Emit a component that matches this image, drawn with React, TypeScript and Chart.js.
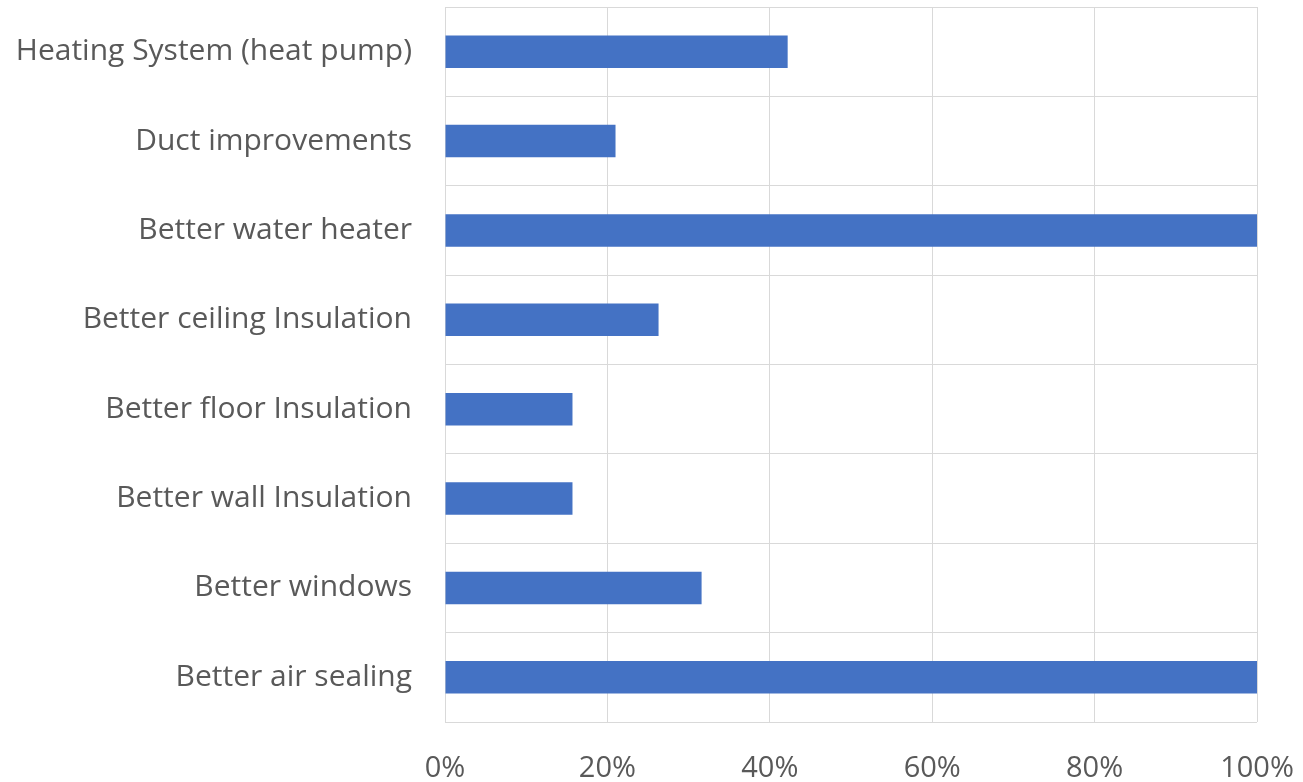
import React, { useEffect, useRef } from "react";
import { Chart, registerables } from "chart.js";

Chart.register(...registerables);

const categories = [
  "Heating System (heat pump)",
  "Duct improvements",
  "Better water heater",
  "Better ceiling Insulation",
  "Better floor Insulation",
  "Better wall Insulation",
  "Better windows",
  "Better air sealing",
];
const values = [42.2, 21.0, 100, 26.3, 15.7, 15.7, 31.6, 100];
const xTicks = [0, 20, 40, 60, 80, 100];

const FONT = "'Open Sans', Lato, sans-serif";

const zeroPad = (scale: any) => {
  scale.paddingLeft = 0;
  scale.paddingRight = 0;
  scale.paddingTop = 0;
  scale.paddingBottom = 0;
};

export default function App() {
  const ref = useRef<HTMLCanvasElement | null>(null);
  useEffect(() => {
    document.body.style.margin = "0";
    if (!ref.current) return;
    const chart = new Chart(ref.current, {
      type: "bar",
      data: {
        labels: categories,
        datasets: [
          {
            data: values,
            backgroundColor: "#4472C4",
            borderWidth: 0,
            categoryPercentage: 0.73,
            barPercentage: 0.5,
          },
        ],
      },
      options: {
        indexAxis: "y",
        animation: false,
        responsive: false,
        maintainAspectRatio: false,
        layout: { padding: { top: 7, right: 46, left: 0, bottom: 0 } },
        plugins: { legend: { display: false }, tooltip: { enabled: false } },
        scales: {
          x: {
            min: 0,
            max: 100,
            afterBuildTicks: (scale: any) => {
              scale.ticks = xTicks.map((v) => ({ value: v }));
            },
            afterFit: (scale: any) => {
              scale.height = 60;
              zeroPad(scale);
            },
            grid: { color: "#d9d9d9", drawTicks: false, lineWidth: 1 },
            border: { display: false },
            ticks: {
              padding: 29,
              color: "#595959",
              maxRotation: 0,
              autoSkip: false,
              font: { family: FONT, size: 29 },
              callback: (v: any) => v + "%",
            },
          },
          y: {
            afterFit: (scale: any) => {
              scale.width = 445;
              zeroPad(scale);
            },
            grid: { color: "#d9d9d9", drawTicks: false, offset: true, lineWidth: 1 },
            border: { display: false },
            ticks: {
              padding: 33,
              color: "#595959",
              autoSkip: false,
              font: { family: FONT, size: 30 },
            },
          },
        },
      },
    });
    return () => chart.destroy();
  }, []);
  return (
    <div style={{ position: "absolute", left: 0, top: 0, width: 1303, height: 782, background: "#fff" }}>
      <canvas ref={ref} width={1303} height={782} style={{ width: 1303, height: 782 }} />
    </div>
  );
}
